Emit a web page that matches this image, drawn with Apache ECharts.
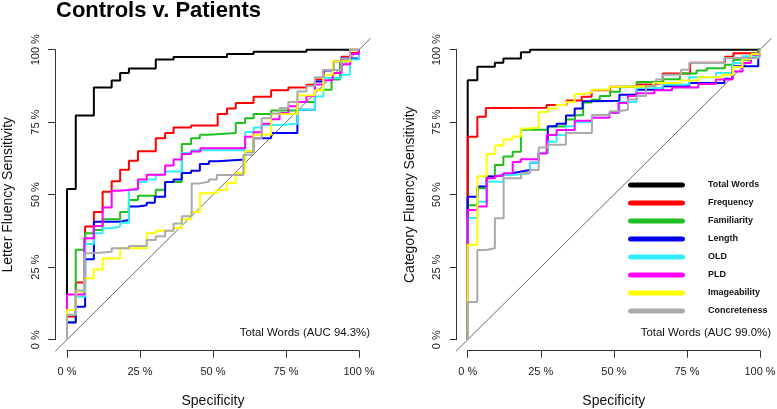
<!DOCTYPE html>
<html>
<head>
<meta charset="utf-8">
<script src="https://cdn.jsdelivr.net/npm/echarts@6/dist/echarts.min.js"></script>
<style>html,body{margin:0;padding:0;background:#fff}#c{width:777px;height:409px}</style>
</head>
<body>
<div id="c"></div>
<script>
// ---------- DATA (specificity %, sensitivity %) ----------
const legendNames = ['Total Words','Frequency','Familiarity','Length','OLD','PLD','Imageability','Concreteness'];
const tickLabels = ['0 %','25 %','50 %','75 %','100 %'];
const aucLetter = 'Total Words (AUC 94.3%)';
const aucCategory = 'Total Words (AUC 99.0%)';
const diagonalRef = [[-4,-4],[104,104]];

// Letter fluency
const letterTotal = [[0,0],[0,52],[3,77.3],[9.2,87],[15.3,89.4],[18.2,92],[21.2,93.5],[30.4,96.6],[36.5,97.5],[54.8,98.5],[63.9,99.3],[82,100],[100,100]];
const letterFrequency = [[0,0],[0,8],[3,19.7],[6.2,39],[9.2,44],[12.2,51],[15.3,54.6],[18.2,58.6],[21.2,61.7],[24.3,65],[30.4,69.5],[33.6,71.3],[36.5,73.2],[42.5,73.9],[51.6,77.8],[54.8,79.7],[57.8,81.6],[63.9,83.8],[69.9,86],[75.8,87],[82,87.9],[84.9,89.7],[87.8,93],[94,97.6],[97,98.9],[100,100]];
const letterFamiliarity = [[0,0],[0,6],[3,31],[6.2,36.7],[9.2,37.8],[12.2,41.5],[18.2,44],[21.2,48.2],[24.3,49.6],[30.4,51.7],[33.6,54.4],[39.3,67.5],[42.5,69.5],[45.5,70.7],[48.6,71.3],[57.8,74.7],[61,76.4],[63.9,77.8],[69.9,79],[78.9,82],[84.9,86.2],[90.6,89.7],[93.5,96],[97,96.8],[100,100]];
const letterLength = [[0,0],[0,5.9],[3,11.4],[6.2,27.7],[9.2,40.7],[18.2,41.3],[21.2,45.9],[24.3,46.4],[27.3,47.2],[30.1,49.3],[33.6,54.4],[36.5,55.2],[39.3,57.5],[42.5,58.3],[45.5,60.6],[48.6,61.5],[51.6,62.1],[61,64.9],[63.9,69.5],[69.9,71.3],[78.9,79.3],[84.9,89],[88,92.8],[91.2,96],[94,97],[100,100]];
const letterOLD = [[0,0],[0,8.5],[3,14.8],[6.2,33],[9.2,36.7],[12.2,38.4],[15.3,39],[18.2,40.3],[21.2,51.7],[24.3,54.4],[27.3,55.2],[30.4,56.9],[33.6,58],[39.3,64.4],[42.5,65.3],[61,71.6],[63.9,73.2],[66.8,74],[72.8,74.5],[78.9,79.3],[84.9,83.9],[87.8,90.2],[94,91.4],[96.9,96.6],[100,100]];
const letterPLD = [[0,0],[0,15.6],[5.9,35],[9.2,39.2],[12.2,45.6],[15.3,51.4],[18.2,52],[24.3,55.2],[27.3,56.9],[33.6,60.1],[36.5,62.1],[39.3,64],[42.5,64.9],[45.7,66],[61,70],[63.9,71.5],[66.7,74.5],[69.9,76],[72.8,78.2],[75.8,80.5],[78.9,82],[82,84],[84.9,88],[87.8,89.5],[91,92],[94,95],[97,98.5],[100,100]];
const letterImageability = [[0,0],[0,10.2],[3,16.6],[5.9,21.2],[9.2,24.2],[12.2,28],[18.2,31.5],[27.3,36.7],[30.4,37.6],[36.5,38.5],[39.3,41.5],[42.5,44],[45.5,50.5],[51.3,51.6],[54.7,54],[57.8,57.5],[61,65],[63.9,70.7],[69.9,77.8],[78.9,84.3],[84.9,86],[87.8,91.4],[91,96],[96.9,100],[100,100]];
const letterConcreteness = [[0,0],[0,8.5],[3,17],[5.9,29.8],[9.2,30.3],[15.3,31.5],[21.2,32.3],[27.3,34.4],[30.4,35.7],[33.6,37.6],[36.5,40.1],[39.3,42.6],[42.7,53.9],[45.5,54.5],[48.6,55.2],[51.3,56.8],[60.4,63.8],[63.9,69.5],[66.7,76.4],[69.9,78],[72.8,79.9],[75.8,82],[78.9,85.6],[82,87.5],[84.9,90.5],[87.8,93],[94,97],[96.9,100],[100,100]];

// Category fluency
const catTotal = [[0,0],[0,89.5],[3.3,94.1],[9.3,95.5],[12.2,97],[18.2,99.1],[21.3,100],[100,100]];
const catFrequency = [[0,0],[0,70],[3.3,76.9],[6.2,79.9],[9.3,80],[27,80.9],[33.8,82.5],[39,83.8],[42.4,86],[48.7,87.2],[57.8,88],[63.5,88.5],[66.7,91.8],[76.1,95.5],[81.8,95.6],[88,97.6],[90.9,98.8],[99.4,100],[100,100]];
const catFamiliarity = [[0,0],[0,46.4],[3.3,52.2],[6.5,56.3],[9.3,60.2],[12.2,63.2],[15.4,64.8],[18.2,72.4],[27.4,73.5],[33.6,75.9],[36.7,77.4],[39.5,81.8],[42.4,82.7],[45.2,84],[48.7,85.5],[52.1,87.2],[57.8,88.9],[66.9,89.8],[72.6,91.8],[78.3,92.8],[81.8,93.6],[88,94.8],[90.9,96.5],[96.6,97.6],[99.4,100],[100,100]];
const catLength = [[0,0],[0,49.3],[3.3,52.8],[6.5,56.3],[9.3,56.8],[12.5,57.4],[15.4,58],[18.3,58.5],[21.3,61],[24.3,64.4],[27.4,73.6],[30.4,74.5],[33.6,77.3],[36.6,79.7],[39.3,82.2],[42.8,82.4],[51.9,84.5],[57.8,86.2],[66.7,87.4],[75.8,88.5],[87.8,90],[90.6,94.3],[99.4,96.4],[100,100]];
const catOLD = [[0,0],[0,42],[3.3,47.6],[6.5,54.5],[12.2,56.8],[15.3,57.4],[21.3,61],[24.3,64.5],[27.4,68.3],[30.4,70.6],[33.6,73.6],[36.6,75],[42.5,77.4],[48.5,78.2],[51.9,82],[57.8,86.8],[66.7,88],[75.8,90.5],[84.9,92],[90.6,95.4],[94,97.7],[100,100]];
const catPLD = [[0,0],[0,44.7],[3.3,45.9],[6.5,55.7],[9.3,56.5],[12.2,57.4],[15.4,61.3],[18.2,62.2],[24.2,64.2],[27,70.6],[30.4,72.3],[36.6,75.5],[42.5,76.5],[48.5,78.3],[51.6,81.6],[54.8,84],[57.7,85],[63.9,86],[69.9,87],[78.9,88.2],[84.9,89.7],[90.6,92.5],[94,95.4],[96.9,98.3],[100,100]];
const catImageability = [[0,0],[0,32.7],[3.3,56.4],[6.5,64],[9.3,67],[12.2,69],[15.3,70.1],[18.3,72.8],[21.3,73.2],[24.3,78.5],[27.4,79.7],[30.4,80.9],[33.6,82],[36.6,84.7],[39.5,85.2],[42.5,86.2],[48.5,87.2],[57.8,87.4],[63.5,88.5],[72.8,89.4],[78.9,90.5],[87,91.4],[90.8,94],[94,96.8],[97,98.5],[100,100]];
const catConcreteness = [[0,0],[0,13],[3.3,30.9],[6.3,31.5],[9.3,41.9],[12.3,55.7],[18.3,57.5],[21.3,58.5],[24.3,66.3],[27.4,67.2],[33.6,71.3],[42.5,77.5],[48.6,78.8],[51.7,79.3],[54.8,82.8],[57.8,84],[61,87.5],[64.4,89.7],[66.7,91.4],[73,93.1],[75.8,95.4],[87.8,97.1],[99.8,100],[100,100]];

// ---------- STYLE ----------
const colors = ['#000000','#ff0000','#1fbf1f','#0000ee','#33eeff','#ff00ff','#ffff00','#aaaaaa'];
const FONT = '"Liberation Sans", Arial, Helvetica, sans-serif';
const letterSets = [letterTotal,letterFrequency,letterFamiliarity,letterLength,letterOLD,letterPLD,letterImageability,letterConcreteness];
const catSets = [catTotal,catFrequency,catFamiliarity,catLength,catOLD,catPLD,catImageability,catConcreteness];

function tickFmt(v){ return tickLabels[Math.round(v/25)] || ''; }

function xAx(gi){
  return {gridIndex:gi, type:'value', min:0, max:100, interval:25, offset:11,
    name:'Specificity', nameLocation:'middle', nameGap:43,
    nameTextStyle:{fontFamily:FONT, fontSize:14, color:'#111'},
    axisLine:{show:true, onZero:false, lineStyle:{color:'#333', width:1}},
    axisTick:{show:true, length:7, lineStyle:{color:'#333'}},
    axisLabel:{formatter:tickFmt, margin:16, fontFamily:FONT, fontSize:11, color:'#222'},
    splitLine:{show:false}};
}
function yAx(gi, name){
  return {gridIndex:gi, type:'value', min:0, max:100, interval:25, offset:gi===0?12:11,
    name:name, nameLocation:'middle', nameGap:40,
    nameTextStyle:{fontFamily:FONT, fontSize:14, color:'#111'},
    axisLine:{show:true, onZero:false, lineStyle:{color:'#333', width:1}},
    axisTick:{show:true, length:7, lineStyle:{color:'#333'}},
    axisLabel:{formatter:tickFmt, rotate:90, margin:14, fontFamily:FONT, fontSize:11, color:'#222'},
    splitLine:{show:false}};
}
function hiddenAx(gi){
  return {gridIndex:gi, type:'value', min:-4, max:104, show:false, splitLine:{show:false}};
}

const series = [];
[letterSets, catSets].forEach((sets, gi) => {
  series.push({type:'line', data:diagonalRef, xAxisIndex:gi+2, yAxisIndex:gi+2, symbol:'none', clip:false,
    silent:true, lineStyle:{color:'#444', width:0.8}, z:1});
  sets.forEach((d, i) => {
    series.push({type:'line', name:legendNames[i], data:d, xAxisIndex:gi, yAxisIndex:gi, step:'end',
      symbol:'none', clip:false, silent:true, color:colors[i],
      lineStyle:{color:colors[i], width:2}, itemStyle:{color:colors[i]}, z:2+i});
  });
});

const chart = echarts.init(document.getElementById('c'), null, {renderer:'canvas'});
chart.setOption({
  animation:false,
  backgroundColor:'#fff',
  title:{text:'Controls v. Patients', left:56, top:0, padding:0,
    textStyle:{fontFamily:FONT, fontSize:22, fontWeight:'bold', color:'#000', lineHeight:22}},
  grid:[
    {left:67, top:49.7, width:292, height:290, outerBoundsMode:'none', containLabel:false},
    {left:467.7, top:49.7, width:292.3, height:290, outerBoundsMode:'none', containLabel:false},
    {left:55.3, top:38.1, width:315.4, height:313.2, outerBoundsMode:'none', containLabel:false},
    {left:456, top:38.1, width:315.7, height:313.2, outerBoundsMode:'none', containLabel:false}
  ],
  xAxis:[xAx(0), xAx(1), hiddenAx(2), hiddenAx(3)],
  yAxis:[yAx(0,'Letter Fluency Sensitivity'), yAx(1,'Category Fluency Sensitivity'), hiddenAx(2), hiddenAx(3)],
  legend:{data:legendNames, orient:'vertical', left:628, top:179, padding:0, itemWidth:57, itemHeight:5, itemGap:6,
    icon:'path://M3,0H54A3,3 0 0 1 54,6H3A3,3 0 0 1 3,0Z', symbolKeepAspect:false, selectedMode:false,
    itemStyle:{borderWidth:0},
    textStyle:{fontFamily:FONT, fontSize:9, fontWeight:'bold', color:'#111', lineHeight:12, padding:[0,0,0,18]}},
  graphic:[
    {type:'text', right:777-370, top:327, style:{text:aucLetter, font:'11.4px ' + FONT, fill:'#111'}},
    {type:'text', right:777-771, top:327, style:{text:aucCategory, font:'11.4px ' + FONT, fill:'#111'}}
  ],
  series:series
});
</script>
</body>
</html>
